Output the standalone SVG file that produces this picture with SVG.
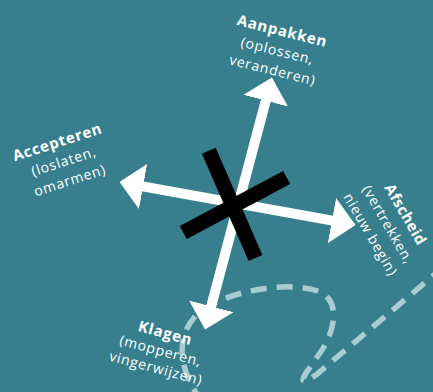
<svg xmlns="http://www.w3.org/2000/svg" width="433" height="392" viewBox="0 0 433 392">
<style>
.t{font-family:"Open Sans","Lato","DejaVu Sans",sans-serif;fill:#ffffff;text-anchor:middle}
.b{font-weight:700;font-size:15px;letter-spacing:0.8px}
.r{font-weight:400;font-size:14px;letter-spacing:0.8px}
.arrow{stroke:#ffffff;stroke-width:10;fill:none;marker-start:url(#head);marker-end:url(#head)}
.bar{stroke:#000000;stroke-width:15;stroke-linecap:butt}
.dash{fill:none;stroke:#a9cbd2;stroke-width:5.5;stroke-dasharray:16 10}
</style>
<defs>
<marker id="head" markerUnits="userSpaceOnUse" markerWidth="24" markerHeight="46" viewBox="0 0 24 46" refX="0.5" refY="23" orient="auto-start-reverse">
<path d="M0,0 L24,23 L0,46 Z" fill="#ffffff"/>
</marker>
</defs>
<rect width="433" height="392" fill="#387f8e"/>
<g id="path-line">
<path class="dash" d="M 203 402 C 180 375, 172 335, 200 312 C 225 292, 285 280, 318 291 C 342 300, 334 332, 322 350 L 306 373 Q 297 388, 316 375 L 440 270"/>
</g>
<g id="aanpakken" transform="translate(281,36) rotate(14)">
<text class="t b" x="0" y="0">Aanpakken</text>
<text class="t r" x="0" y="20">(oplossen,</text>
<text class="t r" x="0" y="40">veranderen)</text>
</g>
<g id="accepteren" transform="translate(59,147) rotate(-18)">
<text class="t b" x="0" y="0">Accepteren</text>
<text class="t r" x="0" y="20">(loslaten,</text>
<text class="t r" x="0" y="40">omarmen)</text>
</g>
<g id="afscheid" transform="translate(401,217) rotate(60)">
<text class="t b" x="0" y="0" style="letter-spacing:0.5px">Afscheid</text>
<text class="t r" x="0" y="20">(vertrekken,</text>
<text class="t r" x="0" y="40">nieuw begin)</text>
</g>
<g id="klagen" transform="translate(164,338) rotate(15)">
<text class="t b" x="0" y="0">Klagen</text>
<text class="t r" x="0" y="18">(mopperen,</text>
<text class="t r" x="0" y="36">vingerwijzen)</text>
</g>
<g id="connectors">
<line class="arrow" x1="211.1" y1="306.8" x2="265.9" y2="100.2"/>
<line class="arrow" x1="142.6" y1="186.3" x2="332.4" y2="220.7"/>
</g>
<g id="cross">
<line class="bar" x1="208.8" y1="150.7" x2="255.5" y2="258"/>
<line class="bar" x1="183.3" y1="232.5" x2="286.7" y2="177.5"/>
</g>
</svg>
